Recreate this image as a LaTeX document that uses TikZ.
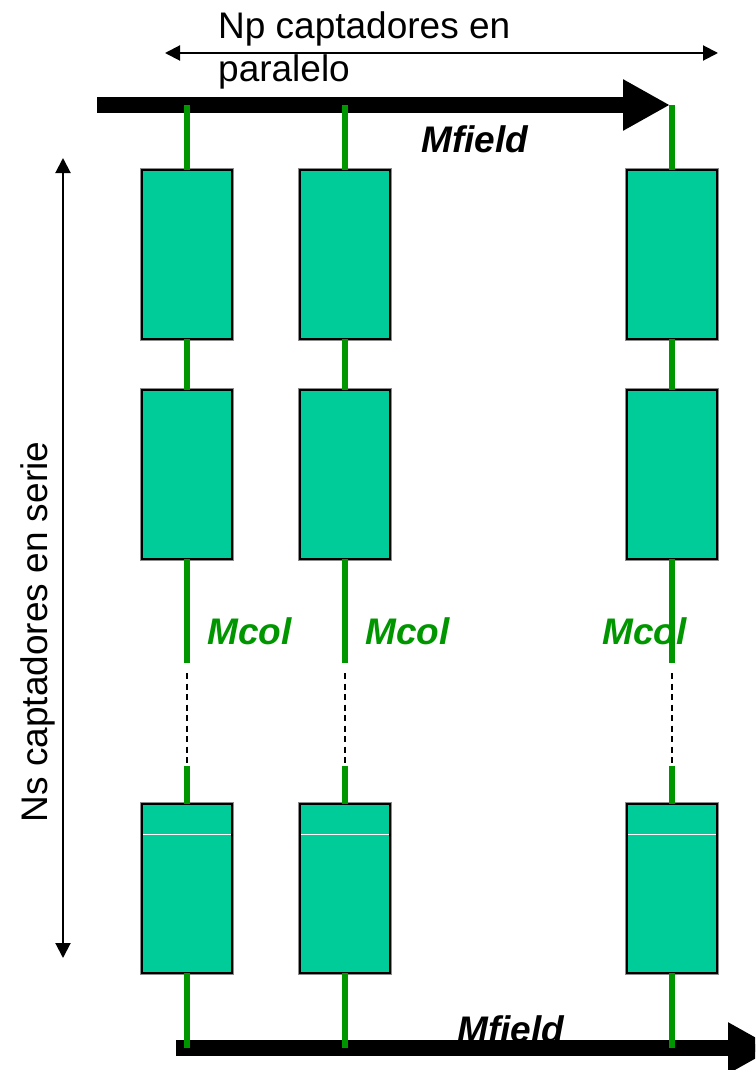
\documentclass[tikz,border=0pt]{standalone}
\usepackage{fontspec}
\setmainfont{Liberation Sans}
\usepackage{tikz}
\usetikzlibrary{arrows.meta,positioning}
\definecolor{pipegreen}{RGB}{0,150,0}
\definecolor{panelfill}{RGB}{0,204,153}
\tikzset{
  >={Triangle[length=15pt,width=15pt]},
  collector/.style={rectangle, draw=black, line width=1.5pt, fill=panelfill,
                    preaction={draw=black!45, line width=3.5pt},
                    minimum width=90pt, minimum height=169pt, inner sep=0pt, outer sep=0pt},
  pipe/.style={draw=pipegreen, line width=6pt},
  gap/.style={draw=black, line width=1.7pt, dash pattern=on 6pt off 4.5pt},
  flow/.style={line width=16pt, -{Triangle[length=47pt,width=48pt]}},
  dim/.style={<->, line width=2pt},
  bigtext/.style={font=\fontsize{37}{43}\selectfont, inner sep=0pt},
  flowlabel/.style={inner sep=0pt, font=\fontsize{37}{43}\selectfont\bfseries\itshape}
}

\begin{document}
\begin{tikzpicture}[x=1pt,y=-1pt]
\useasboundingbox (0,0) rectangle (755,1070);
\clip (0,0) rectangle (755,1070);
% dimension arrows
\node[bigtext, anchor=north west, align=left] (np) at (218,11) {Np captadores en\\paralelo};
\coordinate (npl) at (165,53);
\coordinate (npr) at (718,53);
\draw[dim] (npl) -- (npr);
\node[bigtext, rotate=90, anchor=base] (ns) at (47,632) {Ns captadores en serie};
\coordinate (nst) at (63,158);
\coordinate (nsb) at (63,958);
\draw[dim] (nst) -- (nsb);
% field flow in / out
\coordinate (in) at (97,105);
\coordinate (inend) at (670,105);
\draw[flow] (in) -- (inend);
\node[flowlabel, anchor=base west] (mf1) at (421,152) {Mfield};
\coordinate (ret) at (176,1048);
\coordinate (retend) at (775,1048);
\draw[flow] (ret) -- (retend);
\node[flowlabel, anchor=base west] (mf2) at (457,1042) {Mfield};
% collectors
\node[collector, anchor=north] (a1) at (187,170) {};
\node[collector, right=68pt of a1] (a2) {};
\node[collector, right=237pt of a2] (a3) {};
\node[collector, below=51pt of a1] (b1) {};
\node[collector, below=51pt of a2] (b2) {};
\node[collector, below=51pt of a3] (b3) {};
\node[collector, below=245pt of b1] (c1) {};
\node[collector, below=245pt of b2] (c2) {};
\node[collector, below=245pt of b3] (c3) {};
\foreach \n in {1,2,3}
  \draw[white, line width=1pt] ([xshift=1pt,yshift=-30pt]c\n.north west) -- ([xshift=-1pt,yshift=-30pt]c\n.north east);
% column flow labels
\node[flowlabel, text=pipegreen, anchor=base west] (m1) at (207,644) {Mcol};
\node[flowlabel, text=pipegreen, anchor=base west] (m2) at (365,644) {Mcol};
\node[flowlabel, text=pipegreen, anchor=base west] (m3) at (602,644) {Mcol};
% pipes
\foreach \n in {1,2,3}{
  \draw[pipe] (a\n.north |- in) -- (a\n.north);
  \draw[pipe] (a\n.south) -- (b\n.north);
  \draw[pipe] (b\n.south) -- ++(0,104) coordinate (brk\n);
  \path (c\n.north) ++(0,-38) coordinate (rej\n);
  \draw[gap, shorten <=10pt] (brk\n) -- (rej\n);
  \draw[pipe] (rej\n) -- (c\n.north);
  \draw[pipe] (c\n.south) -- (c\n.south |- ret);
}
\end{tikzpicture}
\end{document}
